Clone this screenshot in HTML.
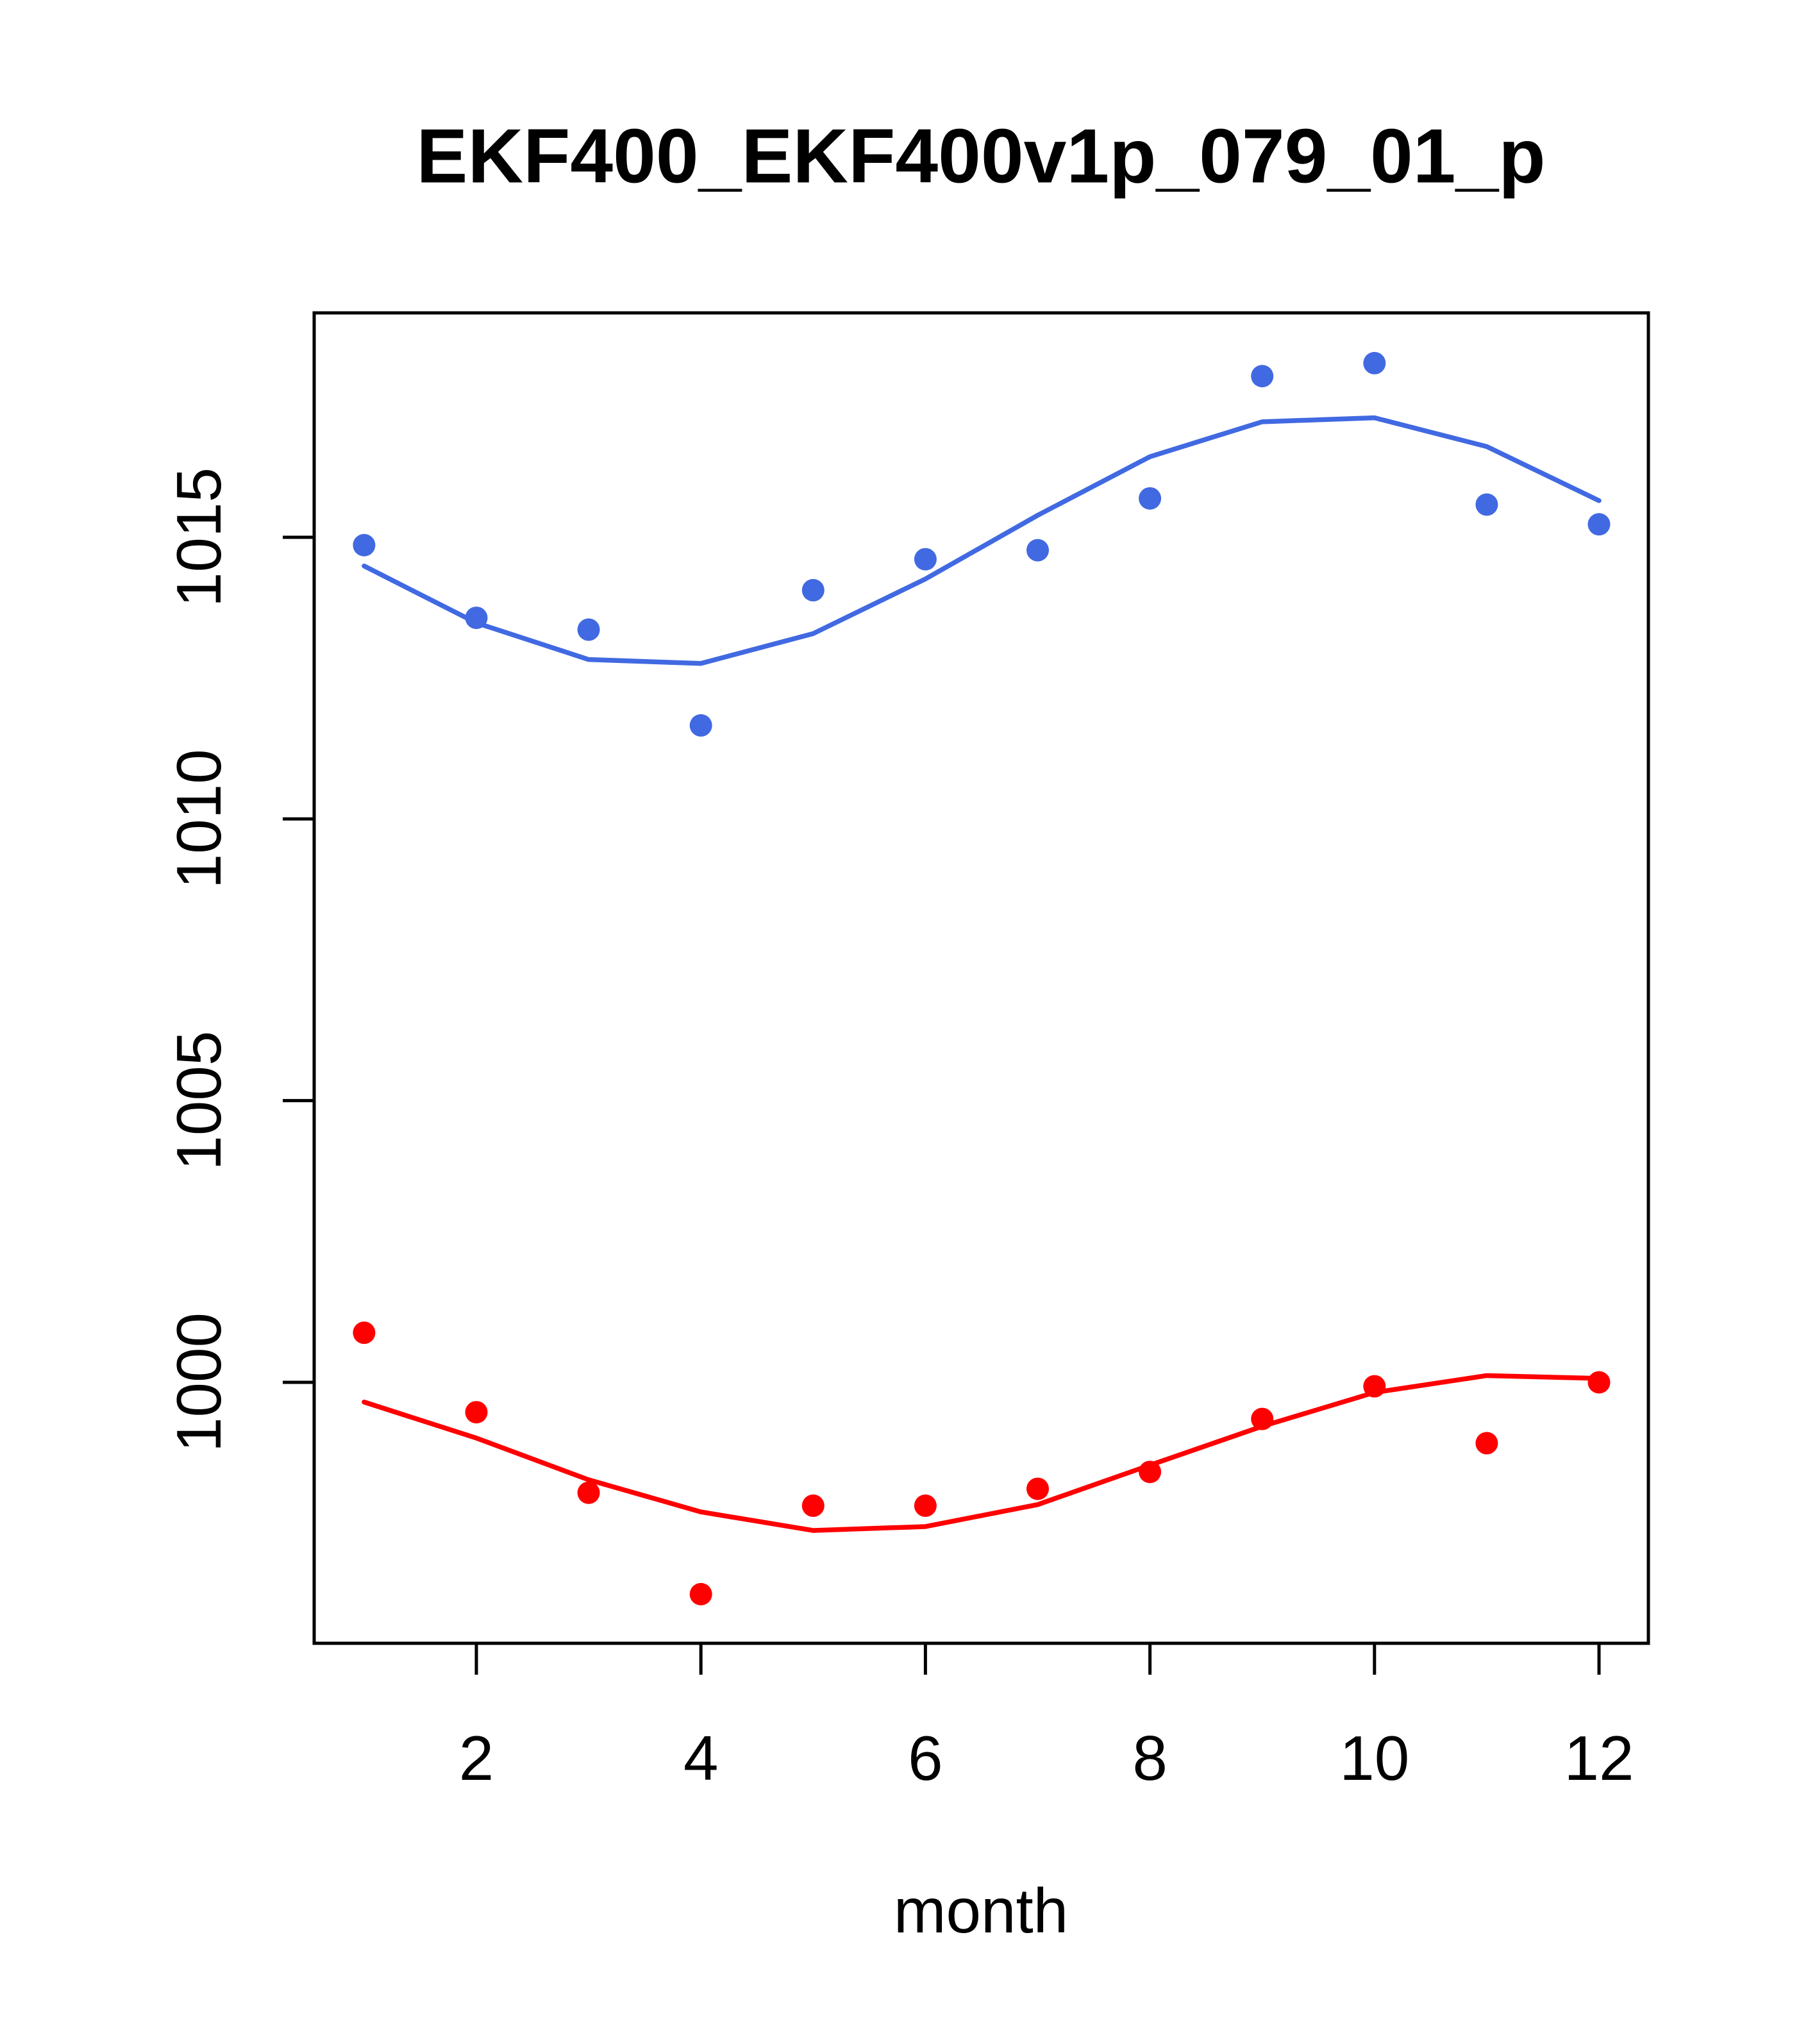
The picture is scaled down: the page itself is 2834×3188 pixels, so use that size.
<!DOCTYPE html>
<html><head><meta charset="utf-8"><style>html,body{margin:0;padding:0;background:#fff}svg{display:block}</style></head>
<body>
<svg id="chart" width="2834" height="3188" viewBox="0 0 2834 3188" xmlns="http://www.w3.org/2000/svg" font-family="Liberation Sans, sans-serif">
<rect width="2834" height="3188" fill="#fff"/>
<text x="1530" y="253" text-anchor="middle" dominant-baseline="middle" font-size="120" font-weight="bold">EKF400_EKF400v1p_079_01_p</text>
<rect x="490" y="488" width="2081" height="2075" fill="none" stroke="#000" stroke-width="5"/>
<text x="1530" y="2988" text-anchor="middle" dominant-baseline="middle" font-size="98">month</text>
<g id="axes"></g>
<g id="marks"></g>
</svg>
<script>
const months=[1,2,3,4,5,6,7,8,9,10,11,12];
const bluePoints=[1014.86,1013.57,1013.36,1011.66,1014.06,1014.61,1014.77,1015.69,1017.86,1018.09,1015.58,1015.23];
const blueLine=[1014.49,1013.48,1012.83,1012.76,1013.29,1014.26,1015.39,1016.43,1017.05,1017.12,1016.61,1015.65];
const redPoints=[1000.88,999.47,998.04,996.24,997.81,997.81,998.11,998.41,999.35,999.93,998.92,1000.0];
const redLine=[999.65,999.01,998.27,997.70,997.37,997.44,997.83,998.53,999.22,999.82,1000.12,1000.07];
const xTicks=[2,4,6,8,10,12];
const yTicks=[1000,1005,1010,1015];
const NS="http://www.w3.org/2000/svg";
function xs(v){return 743+(v-2)*175.1;}
function ys(v){return 2156-(v-1000)*87.87;}
function mk(tag,attrs,parent){const e=document.createElementNS(NS,tag);for(const k in attrs)e.setAttribute(k,attrs[k]);parent.appendChild(e);return e;}
const axes=document.getElementById('axes'),marks=document.getElementById('marks');
mk('line',{x1:xs(2),x2:xs(12),y1:2563,y2:2563,stroke:'#000','stroke-width':5},axes);
xTicks.forEach(t=>{
  const l=mk('line',{x1:xs(t),x2:xs(t),y1:2563,y2:2612,stroke:'#000','stroke-width':5},axes);
  
  
  const tx=mk('text',{x:xs(t),y:2750,'text-anchor':'middle','dominant-baseline':'middle','font-size':98},axes);
  tx.textContent=t;
  
  
});
mk('line',{x1:490,x2:490,y1:ys(1000),y2:ys(1015),stroke:'#000','stroke-width':5},axes);
yTicks.forEach(t=>{
  const l=mk('line',{x1:441,x2:490,y1:ys(t),y2:ys(t),stroke:'#000','stroke-width':5},axes);
  
  
  const tx=mk('text',{x:0,y:0,'text-anchor':'middle','dominant-baseline':'middle','font-size':98,transform:`translate(318,${ys(t)}) rotate(-90)`},axes);
  tx.textContent=t;
  
  
});
function series(line,pts,color,name){
  const p=mk('polyline',{points:months.map((m,i)=>xs(m)+','+ys(line[i])).join(' '),fill:'none',stroke:color,'stroke-width':7.5,'stroke-linejoin':'round','stroke-linecap':'round'},marks);
  
  
  months.forEach((m,i)=>{
    const c=mk('circle',{cx:xs(m),cy:ys(pts[i]),r:17.5,fill:color},marks);
    
    
  });
}
series(blueLine,bluePoints,'#4169E1','blue');
series(redLine,redPoints,'#FF0000','red');
</script>
</body></html>
